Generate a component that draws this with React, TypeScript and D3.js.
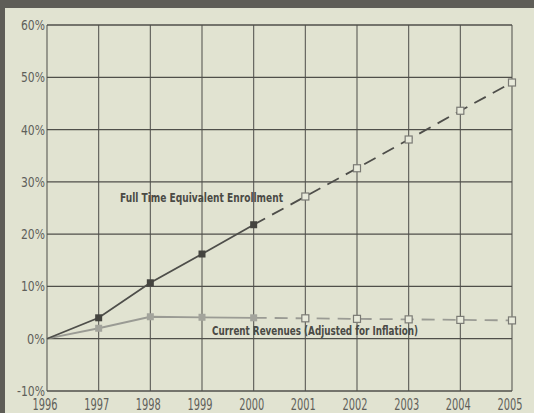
import React from "react";
import * as d3 from "d3";

const years = [1996, 1997, 1998, 1999, 2000, 2001, 2002, 2003, 2004, 2005];
const enrollment = [0, 4.0, 10.7, 16.2, 21.8, 27.2, 32.6, 38.1, 43.6, 49.0];
const revenues = [0, 2.0, 4.2, 4.1, 4.0, 3.9, 3.8, 3.7, 3.6, 3.5];
const yTicks = [-10, 0, 10, 20, 30, 40, 50, 60];
const actualLastIndex = 4;

const W = 534;
const H = 413;
const FONT = "'Liberation Sans Narrow', 'DejaVu Sans Condensed', 'Roboto Condensed', Arial, sans-serif";

export default function App() {
  const x = d3.scaleLinear().domain([1996, 2005]).range([47, 512]);
  const y = d3.scaleLinear().domain([-10, 60]).range([391, 25]);
  const line = d3.line<[number, number]>().x((d) => x(d[0])).y((d) => y(d[1]));
  const pts = (vals: number[]) => years.map((yr, i) => [yr, vals[i]] as [number, number]);
  const solid = (vals: number[]) => pts(vals).slice(0, actualLastIndex + 1);
  const dashed = (vals: number[]) => pts(vals).slice(actualLastIndex);
  const s = 7;

  const series = [
    { vals: revenues, color: "#9a9b94", fill: "#a3a49c" },
    { vals: enrollment, color: "#4e4e4a", fill: "#44443f" },
  ];

  return (
    <svg width={W} height={H} style={{ position: "absolute", left: 0, top: 0 }}>
      <rect x={0} y={0} width={W} height={H} fill="#5e5d57" />
      <rect x={5} y={8} width={W - 5} height={H - 8} fill="#e1e3d1" />
      {years.map((yr) => (
        <line key={"v" + yr} x1={x(yr)} x2={x(yr)} y1={y(60)} y2={y(-10)} stroke="#5a5a55" strokeWidth={1.1} />
      ))}
      {yTicks.map((t) => (
        <line key={"h" + t} x1={x(1996)} x2={x(2005)} y1={y(t)} y2={y(t)} stroke="#4f4f4a" strokeWidth={1.3} />
      ))}
      {yTicks.map((t) => (
        <text key={"yt" + t} x={45} y={y(t) + 5} textAnchor="end" fontFamily={FONT} fontSize={13.5} fill="#5f5f5a"
          textLength={t < 0 ? 28 : t === 0 ? 18 : 24} lengthAdjust="spacingAndGlyphs">
          {t + "%"}
        </text>
      ))}
      {years.map((yr) => (
        <text key={"xt" + yr} x={x(yr) - 2} y={410} textAnchor="middle" fontFamily={FONT} fontSize={15} fill="#5f5f5a"
          textLength={25} lengthAdjust="spacingAndGlyphs">
          {yr}
        </text>
      ))}
      {series.map((sr, k) => (
        <g key={"s" + k}>
          <path d={line(solid(sr.vals)) || ""} fill="none" stroke={sr.color} strokeWidth={1.8} />
          <path d={line(dashed(sr.vals)) || ""} fill="none" stroke={sr.color} strokeWidth={1.8} strokeDasharray="13,8" />
          {pts(sr.vals).map((p, i) =>
            i === 0 ? null : i <= actualLastIndex ? (
              <rect key={i} x={x(p[0]) - s / 2} y={y(p[1]) - s / 2} width={s} height={s} fill={sr.fill} />
            ) : (
              <rect key={i} x={x(p[0]) - s / 2} y={y(p[1]) - s / 2} width={s} height={s} fill="#e8eadb" stroke="#7a7a74" strokeWidth={1.2} />
            )
          )}
        </g>
      ))}
      <text x={120} y={202} fontFamily={FONT} fontWeight="bold" fontSize={13} fill="#4a4a45"
        textLength={163} lengthAdjust="spacingAndGlyphs">
        Full Time Equivalent Enrollment
      </text>
      <text x={212} y={335} fontFamily={FONT} fontWeight="bold" fontSize={13} fill="#4a4a45"
        textLength={206} lengthAdjust="spacingAndGlyphs">
        Current Revenues (Adjusted for Inflation)
      </text>
    </svg>
  );
}
